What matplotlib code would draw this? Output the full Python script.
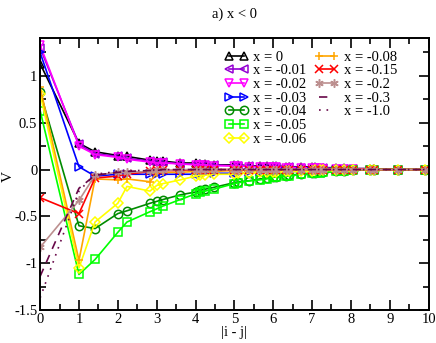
import matplotlib
matplotlib.use("Agg")
import matplotlib.pyplot as plt
from matplotlib.ticker import MultipleLocator

plt.rcParams["font.family"] = ["Liberation Serif", "DejaVu Serif"]

# distances |i - j| on the lattice
dist = [0, 1, 1.414, 2, 2.236, 2.828, 3, 3.162, 3.606, 4, 4.123, 4.243, 4.472,
        5, 5.099, 5.385, 5.657, 5.831, 6, 6.083, 6.325, 6.403, 6.708, 7, 7.071,
        7.211, 7.280, 7.616, 7.810, 8.062, 8.485, 8.602, 9.220, 9.899]

v_0 = [1.13, 0.28, 0.19, 0.15, 0.14, 0.10, 0.09, 0.09, 0.07, 0.07, 0.06, 0.06, 0.05,
       0.05, 0.05, 0.04, 0.04, 0.04, 0.04, 0.04, 0.03, 0.03, 0.03, 0.03, 0.03,
       0.02, 0.02, 0.02, 0.02, 0.01, 0.01, 0.01, 0.0, 0.0]
v_001 = [1.30, 0.27, 0.17, 0.14, 0.12, 0.09, 0.08, 0.08, 0.06, 0.06, 0.05, 0.05, 0.05,
         0.04, 0.04, 0.04, 0.03, 0.03, 0.03, 0.03, 0.03, 0.03, 0.02, 0.02, 0.02,
         0.02, 0.02, 0.01, 0.01, 0.01, 0.01, 0.0, 0.0, 0.0]
v_002 = [1.33, 0.25, 0.16, 0.13, 0.11, 0.08, 0.07, 0.07, 0.06, 0.05, 0.05, 0.05, 0.04,
         0.04, 0.04, 0.03, 0.03, 0.03, 0.03, 0.03, 0.02, 0.02, 0.02, 0.02, 0.02,
         0.02, 0.01, 0.01, 0.01, 0.01, 0.0, 0.0, 0.0, 0.0]
v_003 = [1.25, 0.03, -0.07, -0.05, -0.05, -0.05, -0.05, -0.05, -0.05, -0.05, -0.05, -0.04, -0.04,
         -0.04, -0.04, -0.03, -0.03, -0.03, -0.03, -0.03, -0.02, -0.02, -0.02, -0.02, -0.02,
         -0.01, -0.01, -0.01, -0.01, -0.01, 0.0, 0.0, 0.0, 0.0]
v_004 = [0.83, -0.60, -0.63, -0.47, -0.44, -0.36, -0.34, -0.32, -0.27, -0.24, -0.22, -0.21, -0.19,
         -0.14, -0.13, -0.12, -0.10, -0.09, -0.08, -0.08, -0.07, -0.06, -0.05, -0.04, -0.04,
         -0.03, -0.03, -0.02, -0.02, -0.01, 0.0, 0.0, 0.0, 0.0]
v_005 = [0.63, -1.12, -0.96, -0.67, -0.56, -0.45, -0.42, -0.39, -0.32, -0.26, -0.24, -0.23, -0.21,
         -0.15, -0.14, -0.12, -0.11, -0.10, -0.08, -0.08, -0.07, -0.07, -0.05, -0.04, -0.04,
         -0.04, -0.03, -0.02, -0.02, -0.01, 0.0, 0.0, 0.0, 0.0]
v_006 = [0.81, -1.05, -0.56, -0.36, -0.18, -0.23, -0.17, -0.15, -0.11, -0.07, -0.06, -0.06, -0.05,
         -0.05, -0.04, -0.04, -0.03, -0.03, -0.03, -0.03, -0.02, -0.02, -0.02, -0.02, -0.01,
         -0.01, -0.01, -0.01, -0.01, 0.0, 0.0, 0.0, 0.0, 0.0]
v_008 = [0.88, -0.97, -0.10, -0.11, -0.10, -0.13, -0.04, -0.03, -0.03, -0.02, -0.02, -0.02, -0.02,
         -0.01, -0.01, -0.01, -0.01, -0.01, -0.01, -0.01, 0.0, 0.0, 0.0, 0.0, 0.0,
         0.0, 0.0, 0.0, 0.0, 0.0, 0.0, 0.0, 0.0, 0.0]
v_015 = [-0.30, -0.47, -0.09, -0.07, -0.05, -0.02, -0.01, -0.01, -0.01, 0.0, 0.0, 0.0, 0.0,
         0.0, 0.0, 0.0, 0.0, 0.0, 0.0, 0.0, 0.0, 0.0, 0.0, 0.0, 0.0,
         0.0, 0.0, 0.0, 0.0, 0.0, 0.0, 0.0, 0.0, 0.0]
v_02 = [-0.83, -0.33, -0.06, -0.03, -0.03, -0.02, -0.01, -0.01, 0.0, 0.0, 0.0, 0.0, 0.0,
        0.0, 0.0, 0.0, 0.0, 0.0, 0.0, 0.0, 0.0, 0.0, 0.0, 0.0, 0.0,
        0.0, 0.0, 0.0, 0.0, 0.0, 0.0, 0.0, 0.0, 0.0]
v_03 = [-1.14, -0.20, -0.06, -0.03, -0.02, -0.01, -0.01, 0.0, 0.0, 0.0, 0.0, 0.0, 0.0,
        0.0, 0.0, 0.0, 0.0, 0.0, 0.0, 0.0, 0.0, 0.0, 0.0, 0.0, 0.0,
        0.0, 0.0, 0.0, 0.0, 0.0, 0.0, 0.0, 0.0, 0.0]
v_10 = [-1.37, -0.23, -0.05, -0.02, -0.01, -0.01, 0.0, 0.0, 0.0, 0.0, 0.0, 0.0, 0.0,
        0.0, 0.0, 0.0, 0.0, 0.0, 0.0, 0.0, 0.0, 0.0, 0.0, 0.0, 0.0,
        0.0, 0.0, 0.0, 0.0, 0.0, 0.0, 0.0, 0.0, 0.0]

labels = ["x = 0", "x = -0.01", "x = -0.02", "x = -0.03", "x = -0.04", "x = -0.05",
          "x = -0.06", "x = -0.08", "x = -0.15", "x = -0.2", "x = -0.3", "x = -1.0"]
series = [v_0, v_001, v_002, v_003, v_004, v_005, v_006, v_008, v_015, v_02, v_03, v_10]
colors = ["black", "#9400d3", "#ff00ff", "#0000ff", "#008b00", "#00ff00",
          "#ffff00", "#ffa500", "#ff0000", "#bc8f8f", "#670748", "#670748"]
markers = ["^", "<", "v", ">", "o", "s", "D", "+", "x", (6, 2, 0), None, None]
styles = ["-"] * 10 + [(0, (5, 4)), (0, (1, 3.5))]


fig = plt.figure(figsize=(4.36, 3.43), dpi=100)
ax = fig.add_axes([0.092, 0.096, 0.891, 0.792])

for i, (vals, lab) in enumerate(zip(series, labels)):
    mk = markers[i]
    ms = 6
    if mk == "D":
        ms = 4.8
    elif mk == "s":
        ms = 5.8
    ax.plot(dist, vals, color=colors[i], linestyle=styles[i], linewidth=1.2,
            marker=mk, markersize=ms, markerfacecolor="none",
            markeredgecolor=colors[i], markeredgewidth=1.1, label=lab)

# invisible entry so the legend splits 7 / 5 like the original
ax.plot([], [], color="none", label=" ")

ax.set_xlim(0, 10)
ax.set_ylim(-1.5, 1.4)
ax.xaxis.set_major_locator(MultipleLocator(1))
ax.xaxis.set_minor_locator(MultipleLocator(0.5))
ax.yaxis.set_minor_locator(MultipleLocator(0.25))
ax.set_yticks([-1.5, -1, -0.5, 0, 0.5, 1])
ax.set_yticklabels(["-1.5", "-1", "-0.5", "0", "0.5", "1"])
ax.tick_params(which="both", direction="in", top=True, right=True, labelsize=10.5, width=1.2)
ax.tick_params(which="major", length=7, pad=2)
ax.tick_params(which="minor", length=4)
for s in ax.spines.values():
    s.set_linewidth(1.4)

ax.set_xlabel("|i - j|", fontsize=10.5, labelpad=0)
ax.set_ylabel("V", fontsize=11)
ax.yaxis.set_label_coords(-0.065, 0.49)
ax.set_title("a) x < 0", fontsize=10.5, pad=15)

ax.legend(loc="upper left", ncol=2, frameon=False, fontsize=10.5, numpoints=2,
          handlelength=1.6, handletextpad=0.35, columnspacing=0.6, labelspacing=0.03,
          borderpad=0, borderaxespad=0, bbox_to_anchor=(0.475, 0.955))

fig.savefig("out.png", dpi=100)
